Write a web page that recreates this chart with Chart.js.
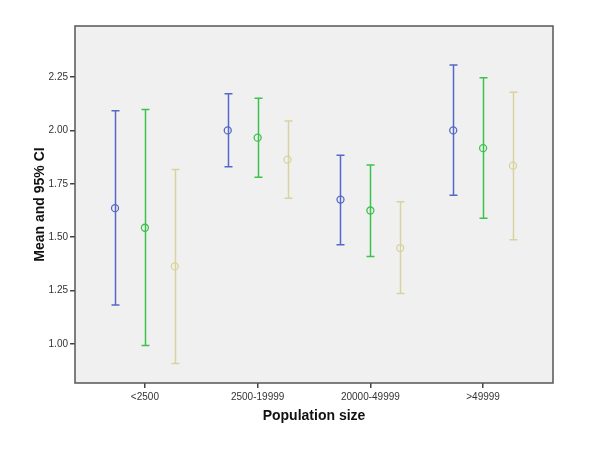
<!DOCTYPE html>
<html>
<head>
<meta charset="utf-8">
<script src="https://cdn.jsdelivr.net/npm/chart.js@4.4.1/dist/chart.umd.min.js"></script>
<style>
  html, body { margin: 0; padding: 0; background: #fff; }
  #wrap { width: 600px; height: 450px; }
</style>
</head>
<body>
<div id="wrap"><canvas id="chart"></canvas></div>
<script>
// ── data ──
const categories = ['<2500', '2500-19999', '20000-49999', '>49999'];
const yTicks = [1.00, 1.25, 1.50, 1.75, 2.00, 2.25];

const blueMean  = [1.636, 2.000, 1.676, 2.000];
const blueLow   = [1.182, 1.830, 1.465, 1.696];
const blueHigh  = [2.092, 2.172, 1.884, 2.306];

const greenMean = [1.544, 1.966, 1.625, 1.917];
const greenLow  = [0.993, 1.781, 1.410, 1.589];
const greenHigh = [2.098, 2.151, 1.838, 2.247];

const beigeMean = [1.363, 1.863, 1.449, 1.835];
const beigeLow  = [0.908, 1.682, 1.236, 1.488];
const beigeHigh = [1.817, 2.044, 1.666, 2.179];

// ── styling ──
const series = [
  { mean: blueMean,  low: blueLow,  high: blueHigh,  color: '#5468c8', shift: -0.265 },
  { mean: greenMean, low: greenLow, high: greenHigh, color: '#3cc24c', shift: 0 },
  { mean: beigeMean, low: beigeLow, high: beigeHigh, color: '#d8d29e', shift: 0.265 }
];

const tickFont = { family: 'Liberation Sans, Arial, sans-serif', size: 10 };
const titleFont = { family: 'Liberation Sans, Arial, sans-serif', size: 14, weight: 'bold' };

// gray plot box
const plotBox = {
  id: 'plotBox',
  beforeDraw(chart) {
    const { ctx, chartArea: a } = chart;
    ctx.save();
    ctx.fillStyle = '#f0f0f0';
    ctx.fillRect(a.left, a.top, a.right - a.left, a.bottom - a.top);
    ctx.restore();
  },
  afterDraw(chart) {
    const { ctx, chartArea: a } = chart;
    ctx.save();
    ctx.strokeStyle = '#555';
    ctx.lineWidth = 1.5;
    ctx.strokeRect(a.left, a.top, a.right - a.left, a.bottom - a.top);
    ctx.restore();
  }
};

// error bars with caps
const errorBars = {
  id: 'errorBars',
  beforeDatasetsDraw(chart) {
    const { ctx, scales: { x, y } } = chart;
    ctx.save();
    ctx.lineWidth = 1.5;
    series.forEach(s => {
      ctx.strokeStyle = s.color;
      categories.forEach((c, i) => {
        const px = Math.round(x.getPixelForValue(i + s.shift)) + 0.5;
        const top = y.getPixelForValue(s.high[i]);
        const bot = y.getPixelForValue(s.low[i]);
        ctx.beginPath();
        ctx.moveTo(px, top);
        ctx.lineTo(px, bot);
        ctx.moveTo(px - 4, top);
        ctx.lineTo(px + 4, top);
        ctx.moveTo(px - 4, bot);
        ctx.lineTo(px + 4, bot);
        ctx.stroke();
      });
    });
    ctx.restore();
  }
};

const datasets = series.map(s => ({
  data: s.mean.map((v, i) => ({ x: i + s.shift, y: v })),
  borderColor: s.color,
  backgroundColor: 'rgba(0,0,0,0)',
  pointRadius: 3.5,
  pointBorderWidth: 1.3,
  showLine: false
}));

new Chart(document.getElementById('chart'), {
  type: 'scatter',
  data: { datasets },
  plugins: [plotBox, errorBars],
  options: {
    responsive: true,
    maintainAspectRatio: false,
    animation: false,
    layout: { padding: { top: 26, right: 47, left: 32, bottom: 25 } },
    plugins: {
      legend: { display: false },
      tooltip: { enabled: false }
    },
    scales: {
      x: {
        type: 'linear',
        min: -0.62,
        max: 3.62,
        afterBuildTicks: axis => { axis.ticks = categories.map((c, i) => ({ value: i })); },
        afterFit: axis => { axis.height = 42; },
        ticks: {
          autoSkip: false,
          maxRotation: 0,
          padding: 3,
          color: '#333',
          font: tickFont,
          callback: v => categories[v]
        },
        grid: { drawOnChartArea: false, drawTicks: true, tickLength: 5, color: '#444', lineWidth: 1.5 },
        border: { display: false },
        title: {
          display: true,
          text: 'Population size',
          color: '#111',
          font: titleFont,
          padding: { top: 6, bottom: 0 }
        }
      },
      y: {
        min: 0.817,
        max: 2.489,
        afterBuildTicks: axis => { axis.ticks = yTicks.map(v => ({ value: v })); },
        afterFit: axis => { axis.width = 43; },
        ticks: {
          padding: 2,
          color: '#333',
          font: tickFont,
          callback: v => Number(v).toFixed(2)
        },
        grid: { drawOnChartArea: false, drawTicks: true, tickLength: 5, color: '#444', lineWidth: 1.5 },
        border: { display: false },
        title: {
          display: true,
          text: 'Mean and 95% CI',
          color: '#111',
          font: titleFont,
          padding: { top: 0, bottom: 0 }
        }
      }
    }
  }
});
</script>
</body>
</html>
